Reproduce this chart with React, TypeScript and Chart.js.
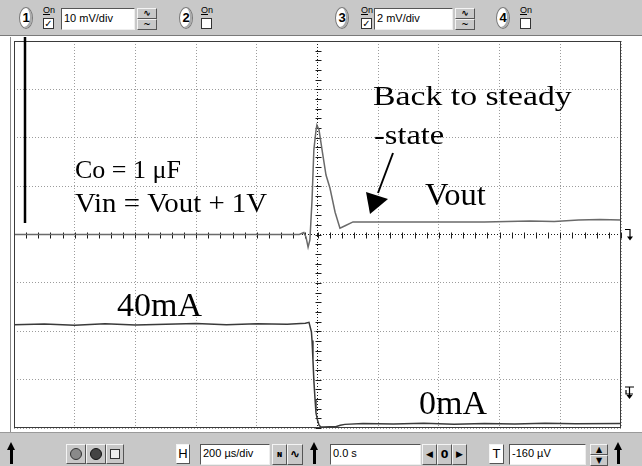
import React, { useEffect, useRef } from "react";
import { Chart, registerables } from "chart.js";

Chart.register(...registerables);

// Oscilloscope settings (per division)
const TIME_PER_DIV_US = 200;
const VOUT_PER_DIV_MV = 10;
const CURRENT_PER_DIV_MA = 20;
const CURRENT_AXIS_MIN_MA = -1.7;
const X_DIVS = 10;
const Y_DIVS = 8;

// Channel 1: output voltage (AC coupled), mV vs time in µs
const voutTimeUs = [-1000, -800, -600, -400, -200, -60, -45, -38, -31, -25, -18, -12, -5, -2, 5, 15, 28, 41, 58, 74, 91, 117, 250, 400, 550, 700, 780, 860, 930, 1000];
const voutMv = [0, 0, 0, 0, 0, 0, 0.4, -0.5, -2.6, -1.1, 7.1, 17.5, 21.5, 22.6, 21.6, 17.5, 12.3, 9.6, 4.6, 1.3, 1.8, 2.6, 2.6, 2.6, 2.6, 2.8, 2.7, 3.0, 3.1, 3.0];

// Channel 3: load current, mA vs time in µs
const currentTimeUs = [-1000, -900, -800, -700, -600, -500, -400, -300, -200, -100, -40, -28, -20, -18, -15, -12, -8, -5, 0, 5, 10, 20, 40, 60, 75, 90, 150, 250, 350, 450, 550, 650, 750, 850, 1000];
const currentMa = [41.0, 41.3, 40.8, 41.4, 40.9, 41.2, 41.5, 41.0, 41.4, 41.2, 41.6, 42.0, 38.0, 34.5, 26.5, 18.0, 10.0, 4.5, 1.6, -0.5, -1.2, -1.3, -1.2, -1.2, -0.6, -0.2, 0.2, 0.0, 0.3, -0.1, 0.2, 0.0, 0.3, 0.1, 0.2];

// Annotation texts
const annotationTexts = ["Back to steady", "-state", "Vout", "Co = 1 \u03bcF", "Vin = Vout + 1V", "40mA", "0mA"];

// Toolbar labels
const channelScales = ["10 mV/div", "2 mV/div"];
const timebaseLabel = "200 \u00b5s/div";
const delayLabel = "0.0 s";
const triggerLabel = "-160 \u00b5V";

const textLayout = [
  { x: 373, y: 105, size: 27, sx: 1.25 },
  { x: 374, y: 144, size: 27, sx: 1.2 },
  { x: 425, y: 205, size: 31, sx: 1.05 },
  { x: 75, y: 178, size: 26, sx: 1.0 },
  { x: 75, y: 212, size: 28, sx: 1.03 },
  { x: 117, y: 316, size: 34, sx: 1.0 },
  { x: 419, y: 414, size: 34, sx: 1.0 },
];

const decor = {
  id: "scopeDecor",
  beforeDatasetsDraw(chart: any) {
    const { ctx, scales } = chart;
    const x = scales.x;
    const y = scales.y;
    const cy = Math.round(y.getPixelForValue(0)) + 0.5;
    const cx = Math.round(x.getPixelForValue(0)) + 0.5;
    ctx.save();
    ctx.strokeStyle = "#1a1a1a";
    ctx.lineWidth = 1;
    ctx.beginPath();
    const xs = TIME_PER_DIV_US / 5;
    for (let v = x.min; v <= x.max + 1e-6; v += xs) {
      const px = Math.round(x.getPixelForValue(v)) + 0.5;
      ctx.moveTo(px, cy - 3);
      ctx.lineTo(px, cy + 3);
    }
    const ys = VOUT_PER_DIV_MV / 5;
    for (let v = y.min; v <= y.max + 1e-6; v += ys) {
      const py = Math.round(y.getPixelForValue(v)) + 0.5;
      ctx.moveTo(cx - 3, py);
      ctx.lineTo(cx + 3, py);
    }
    ctx.stroke();
    ctx.restore();
  },
  afterDraw(chart: any) {
    const { ctx, chartArea: a } = chart;
    ctx.save();
    // plot frame
    ctx.strokeStyle = "#3a3a3a";
    ctx.lineWidth = 1;
    ctx.strokeRect(a.left + 0.5, a.top + 0.5, a.right - a.left - 1, a.bottom - a.top - 1);
    // outer frame line
    ctx.strokeStyle = "#8a8a8a";
    ctx.beginPath();
    ctx.moveTo(10.5, 37);
    ctx.lineTo(10.5, 432);
    ctx.stroke();
    // channel marker line
    ctx.strokeStyle = "#000";
    ctx.lineWidth = 2.5;
    ctx.beginPath();
    ctx.moveTo(25, 37);
    ctx.lineTo(25, 223);
    ctx.stroke();
    // texts
    ctx.fillStyle = "#000";
    ctx.textBaseline = "alphabetic";
    annotationTexts.forEach((t, i) => {
      const L = textLayout[i];
      ctx.save();
      ctx.font = `${L.size}px "Liberation Serif", "Times New Roman", serif`;
      ctx.translate(L.x, L.y);
      ctx.scale(L.sx, 1);
      ctx.fillText(t, 0, 0);
      ctx.restore();
    });
    // arrow
    ctx.strokeStyle = "#000";
    ctx.lineWidth = 2;
    ctx.beginPath();
    ctx.moveTo(393, 153);
    ctx.lineTo(378, 193);
    ctx.stroke();
    ctx.beginPath();
    ctx.moveTo(370, 214);
    ctx.lineTo(366, 192);
    ctx.lineTo(388, 199);
    ctx.closePath();
    ctx.fill();
    // right-side ground markers
    ctx.lineWidth = 1.2;
    const mk = (yy: number) => {
      ctx.beginPath();
      ctx.moveTo(625, yy - 5);
      ctx.lineTo(630, yy - 5);
      ctx.lineTo(630, yy + 4);
      ctx.stroke();
      ctx.beginPath();
      ctx.moveTo(627, yy + 2);
      ctx.lineTo(633, yy + 2);
      ctx.lineTo(630, yy + 6);
      ctx.closePath();
      ctx.fill();
    };
    mk(chart.scales.y.getPixelForValue(0));
    ctx.beginPath();
    ctx.moveTo(625, 387);
    ctx.lineTo(634, 387);
    ctx.moveTo(629.5, 387);
    ctx.lineTo(629.5, 396);
    ctx.moveTo(626, 390);
    ctx.lineTo(626, 394);
    ctx.lineTo(633, 394);
    ctx.stroke();
    ctx.beginPath();
    ctx.moveTo(626.5, 395);
    ctx.lineTo(632.5, 395);
    ctx.lineTo(629.5, 399);
    ctx.closePath();
    ctx.fill();
    ctx.restore();
  },
};

const abs = (o: any): React.CSSProperties => ({ position: "absolute", boxSizing: "border-box", ...o });

const raised = {
  background: "#c8c8c8",
  borderTop: "1px solid #f4f4f4",
  borderLeft: "1px solid #f4f4f4",
  borderRight: "1px solid #555",
  borderBottom: "1px solid #555",
};
const sunken = {
  background: "#fff",
  borderTop: "1px solid #555",
  borderLeft: "1px solid #555",
  borderRight: "1px solid #eee",
  borderBottom: "1px solid #eee",
};

function Circle({ x, n }: { x: number; n: string }) {
  return (
    <div
      style={abs({
        left: x,
        top: 7,
        width: 14,
        height: 22,
        borderRadius: "50%",
        background: "#fff",
        border: "1px solid #777",
        boxShadow: "inset -2px -1px 0 #aaa",
        font: "bold 13px 'Liberation Sans', Arial, sans-serif",
        textAlign: "center",
        lineHeight: "20px",
        color: "#000",
      })}
    >
      {n}
    </div>
  );
}

function OnBox({ x, checked }: { x: number; checked: boolean }) {
  return (
    <>
      <div style={abs({ left: x, top: 5, font: "9px 'Liberation Sans', Arial, sans-serif", lineHeight: "10px", color: "#000" })}>
        <u>O</u>n
      </div>
      <div
        style={abs({
          left: x,
          top: 18,
          width: 11,
          height: 11,
          background: "#fff",
          border: "1px solid #333",
          font: "bold 10px 'DejaVu Sans', sans-serif",
          lineHeight: "9px",
          textAlign: "center",
          color: "#000",
        })}
      >
        {checked ? "\u2713" : ""}
      </div>
    </>
  );
}

function Field({ x, y, w, h, text }: { x: number; y: number; w: number; h: number; text: string }) {
  return (
    <div
      style={abs({
        left: x,
        top: y,
        width: w,
        height: h,
        ...sunken,
        font: "11px 'Liberation Sans', Arial, sans-serif",
        lineHeight: `${h - 4}px`,
        paddingLeft: 2,
        color: "#000",
        whiteSpace: "nowrap",
      })}
    >
      {text}
    </div>
  );
}

function Btn({ x, y, w, h, children, style }: any) {
  return (
    <div
      style={abs({
        left: x,
        top: y,
        width: w,
        height: h,
        ...raised,
        font: "bold 11px 'DejaVu Sans', sans-serif",
        textAlign: "center",
        lineHeight: `${h - 2}px`,
        color: "#000",
        overflow: "hidden",
        ...(style || {}),
      })}
    >
      {children}
    </div>
  );
}

function Spin({ x }: { x: number }) {
  return (
    <>
      <Btn x={x} y={8} w={20} h={11} style={{ fontSize: 9, lineHeight: "9px" }}>{"\u223f"}</Btn>
      <Btn x={x} y={19} w={20} h={11} style={{ fontSize: 9, lineHeight: "9px" }}>~</Btn>
    </>
  );
}

function UpArrow({ x }: { x: number }) {
  return (
    <div style={abs({ left: x, top: 441, width: 8, height: 22 })}>
      <div style={abs({ left: 2.5, top: 6, width: 3, height: 16, background: "#000" })} />
      <div
        style={abs({
          left: 0,
          top: 0,
          width: 0,
          height: 0,
          borderLeft: "4px solid transparent",
          borderRight: "4px solid transparent",
          borderBottom: "8px solid #000",
        })}
      />
    </div>
  );
}

function TopBar() {
  return (
    <div style={abs({ left: 0, top: 0, width: 642, height: 36, background: "#c8c8c8", borderBottom: "1px solid #7a7a7a" })}>
      <Circle x={19} n="1" />
      <OnBox x={43} checked={true} />
      <Field x={61} y={8} w={74} h={22} text={channelScales[0]} />
      <Spin x={137} />
      <Circle x={179} n="2" />
      <OnBox x={201} checked={false} />
      <Circle x={335} n="3" />
      <OnBox x={361} checked={true} />
      <Field x={374} y={8} w={79} h={22} text={channelScales[1]} />
      <Spin x={455} />
      <Circle x={496} n="4" />
      <OnBox x={520} checked={false} />
    </div>
  );
}

function BottomBar() {
  return (
    <div style={abs({ left: 0, top: 432, width: 642, height: 34, background: "#c8c8c8", borderTop: "1px solid #9a9a9a" })}>
      <div style={abs({ left: 0, top: -432, width: 642, height: 466 })}>
        <UpArrow x={7} />
        <Btn x={66} y={443} w={20} h={20}>
          <div style={abs({ left: 3, top: 3, width: 12, height: 12, borderRadius: "50%", background: "#8a8a8a", border: "1px solid #333" })} />
        </Btn>
        <Btn x={86} y={443} w={20} h={20}>
          <div style={abs({ left: 3, top: 3, width: 12, height: 12, borderRadius: "50%", background: "#444", border: "1px solid #111" })} />
        </Btn>
        <Btn x={106} y={443} w={18} h={20}>
          <div style={abs({ left: 3, top: 4, width: 10, height: 10, background: "#eee", border: "1px solid #333" })} />
        </Btn>
        <Btn x={176} y={443} w={14} h={20} style={{ font: "13px 'Liberation Sans', Arial", lineHeight: "18px", background: "#fff" }}>H</Btn>
        <Field x={200} y={443} w={70} h={21} text={timebaseLabel} />
        <Btn x={272} y={443} w={15} h={21} style={{ fontSize: 8 }}>{"\u0274"}</Btn>
        <Btn x={287} y={443} w={16} h={21} style={{ fontSize: 12 }}>{"\u223f"}</Btn>
        <UpArrow x={310} />
        <Field x={330} y={443} w={91} h={21} text={delayLabel} />
        <Btn x={422} y={443} w={15} h={21} style={{ fontSize: 9 }}>{"\u25c0"}</Btn>
        <Btn x={437} y={443} w={15} h={21} style={{ fontSize: 11 }}>0</Btn>
        <Btn x={452} y={443} w={15} h={21} style={{ fontSize: 9 }}>{"\u25b6"}</Btn>
        <Btn x={489} y={443} w={15} h={20} style={{ font: "13px 'Liberation Sans', Arial", lineHeight: "18px", background: "#fff" }}>T</Btn>
        <Field x={509} y={443} w={77} h={21} text={triggerLabel} />
        <Btn x={590} y={443} w={18} h={11} style={{ fontSize: 8, lineHeight: "9px" }}>{"\u25b2"}</Btn>
        <Btn x={590} y={454} w={18} h={11} style={{ fontSize: 8, lineHeight: "9px" }}>{"\u25bc"}</Btn>
        <UpArrow x={614} />
      </div>
    </div>
  );
}

export default function App() {
  const ref = useRef<HTMLCanvasElement>(null);
  useEffect(() => {
    if (!ref.current) return;
    const gridColor = (c: any) => (c.tick && c.tick.value === 0 ? "#1a1a1a" : "#9c9c9c");
    const chart = new Chart(ref.current, {
      type: "line",
      data: {
        datasets: [
          {
            label: "Vout",
            data: voutTimeUs.map((t, i) => ({ x: t, y: voutMv[i] })),
            yAxisID: "y",
            borderColor: "#6a6a6a",
            borderWidth: 1.5,
            pointRadius: 0,
            tension: 0,
          },
          {
            label: "Iout",
            data: currentTimeUs.map((t, i) => ({ x: t, y: currentMa[i] })),
            yAxisID: "y2",
            borderColor: "#3a3a3a",
            borderWidth: 1.5,
            pointRadius: 0,
            tension: 0,
          },
        ],
      },
      options: {
        responsive: false,
        animation: false,
        devicePixelRatio: 1,
        events: [],
        layout: { padding: { left: 14, top: 41, right: 21, bottom: 38 } },
        plugins: { legend: { display: false }, tooltip: { enabled: false } },
        scales: {
          x: {
            type: "linear",
            min: (-X_DIVS / 2) * TIME_PER_DIV_US,
            max: (X_DIVS / 2) * TIME_PER_DIV_US,
            ticks: { display: false, stepSize: TIME_PER_DIV_US },
            grid: { color: gridColor, lineWidth: 1, drawTicks: false },
            border: { display: false, dash: [1, 2] },
            afterFit: (s: any) => {
              s.height = 0;
            },
          },
          y: {
            type: "linear",
            min: (-Y_DIVS / 2) * VOUT_PER_DIV_MV,
            max: (Y_DIVS / 2) * VOUT_PER_DIV_MV,
            ticks: { display: false, stepSize: VOUT_PER_DIV_MV },
            grid: { color: gridColor, lineWidth: 1, drawTicks: false },
            border: { display: false, dash: [1, 2] },
            afterFit: (s: any) => {
              s.width = 0;
            },
          },
          y2: {
            type: "linear",
            display: false,
            min: CURRENT_AXIS_MIN_MA,
            max: CURRENT_AXIS_MIN_MA + Y_DIVS * CURRENT_PER_DIV_MA,
          },
        },
      } as any,
      plugins: [decor],
    });
    return () => chart.destroy();
  }, []);
  return (
    <div
      style={{
        position: "fixed",
        left: 0,
        top: 0,
        width: 642,
        height: 466,
        background: "#fff",
        overflow: "hidden",
      }}
    >
      <canvas ref={ref} width={642} height={466} style={{ position: "absolute", left: 0, top: 0, width: 642, height: 466 }} />
      <TopBar />
      <BottomBar />
    </div>
  );
}
